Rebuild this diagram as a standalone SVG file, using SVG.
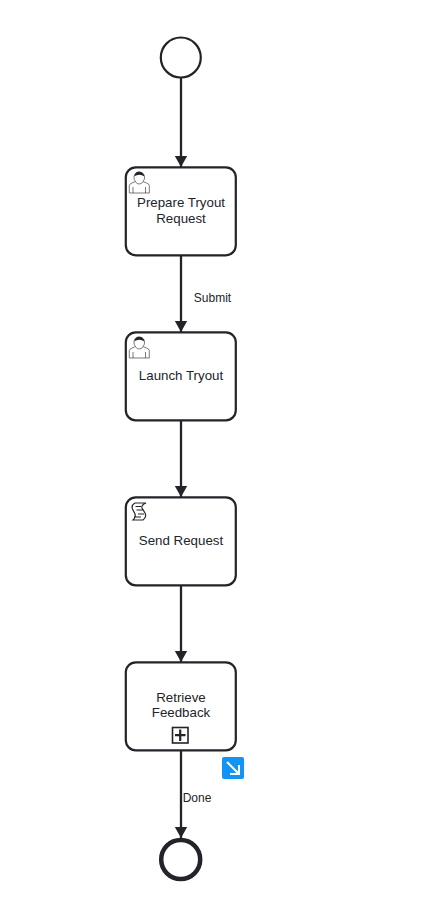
<svg xmlns="http://www.w3.org/2000/svg" width="448" height="912" viewBox="0 0 448 912">
<style>
.t{font-family:"Liberation Sans",Arial,sans-serif;font-size:13.300px;fill:#22242a;text-anchor:middle}
.l{font-family:"Liberation Sans",Arial,sans-serif;font-size:12px;fill:#22242a;text-anchor:middle}
.task{fill:#fff;stroke:#22242a;stroke-width:2.200}
.ln{fill:none;stroke:#22242a;stroke-width:2.300}
.ic{fill:none;stroke:#22242a;stroke-width:.6}
</style>
<defs>
<marker id="a" markerUnits="userSpaceOnUse" markerWidth="14" markerHeight="14" refX="11.500" refY="7" orient="auto"><path d="M0 .5L11.500 7L0 13.500Z" fill="#22242a"/></marker>
<g id="user"><path class="ic" d="M4.300 22V14.500Q4.300 13 7 12L10.500 10.500Q8.500 8.500 9 5.500Q10 1 14 1Q18.500 1 19.500 5.500Q20 8.500 18 10.500L21.500 12Q24.300 13 24.300 14.500V22ZM8 22V16M20.500 22V16M10.500 11Q14 15 18 11"/><path d="M9.300 5.500Q10 1 14 .8Q18.500 1 19.500 5.500Q16 3.300 13 4Q10.500 4.200 9.300 5.500Z" fill="#22242a"/></g>
</defs>
<g id="connectors">
<path class="ln" marker-end="url(#a)" d="M181 77V167"/>
<path class="ln" marker-end="url(#a)" d="M181 255V332"/>
<path class="ln" marker-end="url(#a)" d="M181 420V497"/>
<path class="ln" marker-end="url(#a)" d="M181 585V662"/>
<path class="ln" marker-end="url(#a)" d="M181 750V838"/>
<text class="l" x="212.500" y="302">Submit</text>
<text class="l" x="197" y="802">Done</text>
</g>
<g id="start"><circle cx="180.800" cy="57.500" r="20" fill="#fff" stroke="#22242a" stroke-width="2.200"/></g>
<g id="prepare"><rect class="task" x="125.800" y="167.300" width="110" height="88" rx="10"/><use href="#user" x="125" y="171"/><text class="t" x="181" y="207">Prepare Tryout</text><text class="t" x="181" y="223">Request</text></g>
<g id="launch"><rect class="task" x="125.800" y="332.300" width="110" height="88" rx="10"/><use href="#user" x="125" y="336"/><text class="t" x="181" y="380">Launch Tryout</text></g>
<g id="send"><rect class="task" x="125.800" y="497.300" width="110" height="88" rx="10"/>
<path fill="none" stroke="#22242a" stroke-width="1.200" d="M135 503H146Q141 505 142 508L145 513Q147 517 143 520H133Q136 517 135 514L132.500 509Q131 505 135 503ZM135.500 506.500H141M136.500 510H143M138 514H144M134 517H141"/>
<text class="t" x="181" y="545">Send Request</text></g>
<g id="retrieve"><rect class="task" x="125.800" y="662.300" width="110" height="88" rx="10"/><text class="t" x="181" y="702">Retrieve</text><text class="t" x="181" y="717">Feedback</text>
<rect x="172.500" y="727.500" width="15.500" height="15.500" fill="#fff" stroke="#22242a" stroke-width="1.600"/><path d="M180.200 729.500V741M175 735.200H185.500" stroke="#22242a" stroke-width="2.200" fill="none"/></g>
<g id="end"><circle cx="180.700" cy="859.500" r="19.500" fill="#fff" stroke="#22242a" stroke-width="4.500"/></g>
<g id="badge"><rect x="222" y="757" width="22" height="22" rx="2" fill="#1294f5"/><path d="M227 762L239 774M239 765V774H230" fill="none" stroke="#fff" stroke-width="2"/></g>
</svg>
